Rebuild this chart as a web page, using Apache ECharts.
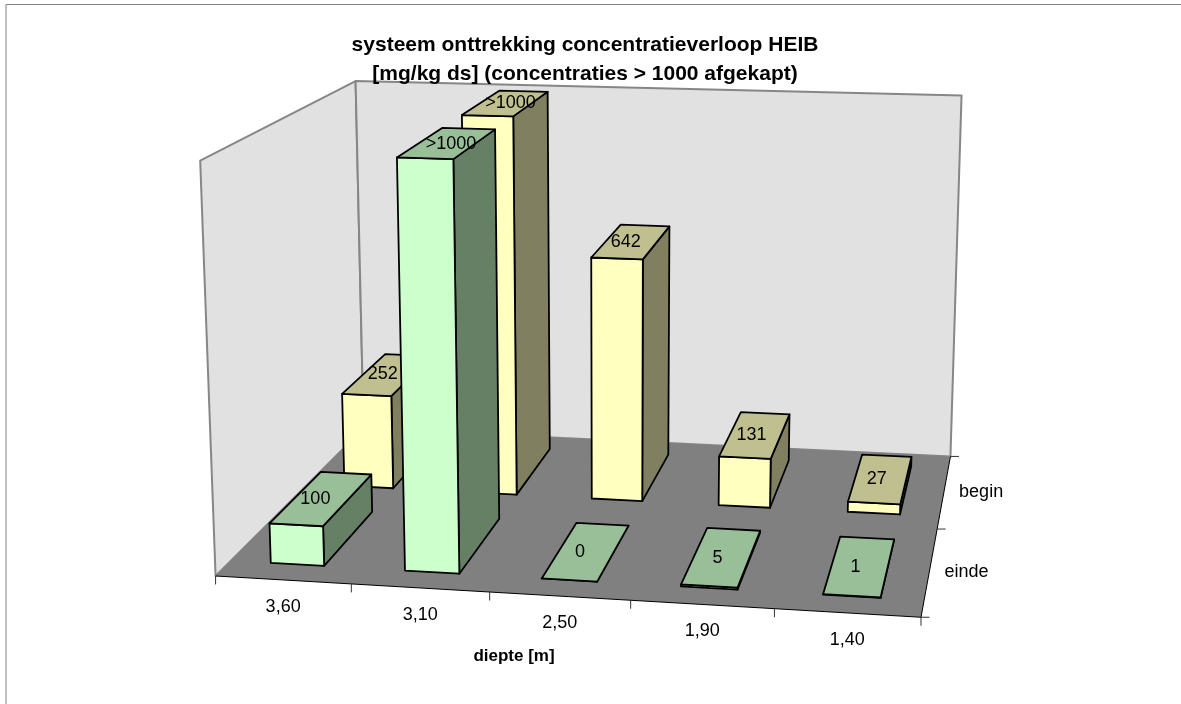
<!DOCTYPE html>
<html><head><meta charset="utf-8">
<style>html,body{margin:0;padding:0;background:#fff}#c{width:1181px;height:704px}</style>
<script src="https://cdn.jsdelivr.net/npm/echarts@6/dist/echarts.min.js"></script>
</head><body><div id="c"></div>
<script>
const categories = ['3,60','3,10','2,50','1,90','1,40'];
const rows = ['einde','begin'];
const beginValues = [252,1000,642,131,27];
const eindeValues = [100,1000,0,5,1];
const beginLabels = ['252','>1000','642','131','27'];
const eindeLabels = ['100','>1000','0','5','1'];

// camera calibration: plot-box position (u,v,w) -> screen
const calib = [
 [0,0,0,214.5,575.3],[1,0,0,351.7,584],[2,0,0,490,592.5],[3,0,0,631,601],[4,0,0,775,609],[5,0,0,920,616.8],
 [5,.5,0,937,528.7],[5,1,0,950.5,456.8],[0,1,0,364,428],
 [0,0,1,200.7,160.3],[0,1,1,355,81.7],[5,1,1,961.7,95]
];
function solve(A,b){const n=b.length;for(let i=0;i<n;i++){let m=i;for(let r=i+1;r<n;r++)if(Math.abs(A[r][i])>Math.abs(A[m][i]))m=r;
 [A[i],A[m]]=[A[m],A[i]];[b[i],b[m]]=[b[m],b[i]];
 for(let r=i+1;r<n;r++){const f=A[r][i]/A[i][i];for(let c=i;c<n;c++)A[r][c]-=f*A[i][c];b[r]-=f*b[i];}}
 const x=Array(n).fill(0);for(let i=n-1;i>=0;i--){let s=b[i];for(let c=i+1;c<n;c++)s-=A[i][c]*x[c];x[i]=s/A[i][i];}return x;}
function fit(pts){const N=Array.from({length:11},()=>Array(11).fill(0)),B=Array(11).fill(0);
 const add=(r,t)=>{for(let i=0;i<11;i++){B[i]+=r[i]*t;for(let j=0;j<11;j++)N[i][j]+=r[i]*r[j];}};
 pts.forEach(([X,Y,Z,x,y])=>{add([X,Y,Z,1,0,0,0,0,-x*X,-x*Y,-x*Z],x);add([0,0,0,0,X,Y,Z,1,-y*X,-y*Y,-y*Z],y);});
 return solve(N,B);}
const p=fit(calib);
function proj(u,v,w){const d=p[8]*u+p[9]*v+p[10]*w+1;return [(p[0]*u+p[1]*v+p[2]*w+p[3])/d,(p[4]*u+p[5]*v+p[6]*w+p[7])/d];}

const gapU=0.3, rowSpan=[[.088,.42],[.58,.912]];
const wallFill='#e1e1e1', wallLine='#868686', floorFill='#808080';
const labelFont='18px "Liberation Sans"';
const poly=(pts,fill,stroke,lw)=>({type:'polygon',shape:{points:pts},style:{fill:fill,stroke:stroke||null,lineWidth:lw||0,lineJoin:'round'}});
const seg=(a,b,c,lw)=>({type:'line',shape:{x1:a[0],y1:a[1],x2:b[0],y2:b[1]},style:{stroke:c,lineWidth:lw}});

function frameItem(){
 const f00=proj(0,0,0),f50=proj(5,0,0),f51=proj(5,1,0),f01=proj(0,1,0),t00=proj(0,0,1),t01=proj(0,1,1),t51=proj(5,1,1);
 const ch=[poly([f00,f01,t01,t00],wallFill,wallLine,2),poly([f01,f51,t51,t01],wallFill,wallLine,2),poly([f00,f50,f51,f01],floorFill)];
 ch.push(seg(f00,f50,'#000',1),seg(f50,f51,'#000',1));
 for(let i=0;i<=categories.length;i++){const a=proj(i,0,0);ch.push(seg(a,[a[0],a[1]+8.5],'#333',1));}
 for(let j=0;j<=rows.length;j++){const a=proj(5,j/rows.length,0);ch.push(seg(a,[a[0]+8.5,a[1]],'#333',1));}
 return {type:'group',children:ch};
}
function barRender(row,front,top,side){
 return function(params,api){
  const cs=params.coordSys,i=api.value(0);
  const c=api.coord([i,api.value(1)]),band=api.size([1,0])[0];
  const uc=(c[0]-cs.x)/band, w=(cs.y+cs.height-c[1])/cs.height;
  const u0=uc-.5+gapU,u1=uc+.5-gapU,v0=rowSpan[row][0],v1=rowSpan[row][1];
  const a=proj(u0,v0,0),b=proj(u1,v0,0),d=proj(u1,v1,0),A=proj(u0,v0,w),B=proj(u1,v0,w),C=proj(u0,v1,w),D=proj(u1,v1,w);
  return {type:'group',children:[
   poly([b,d,D,B],side,'#000',1.8),poly([a,b,B,A],front,'#000',1.8),poly([A,B,D,C],top,'#000',1.8)]};
 };
}
function labelRender(row,labels){
 return function(params,api){
  const cs=params.coordSys,i=api.value(0);
  const c=api.coord([i,api.value(1)]),band=api.size([1,0])[0];
  const uc=(c[0]-cs.x)/band,w=(cs.y+cs.height-c[1])/cs.height;
  const pt=proj(uc,(row+.5)/rows.length,w);
  const dx=labels[i].length>3?4:(i<3?-6:-4);
  return {type:'text',x:pt[0]+dx,y:pt[1]+.5,style:{text:labels[i],font:labelFont,fill:'#000',align:'center',verticalAlign:'middle'}};
 };
}
function axisLabelItem(params,api){
 const ch=[];
 categories.forEach((t,i)=>{const a=proj(i+.5,0,0);ch.push({type:'text',x:a[0],y:a[1]+27,style:{text:t,font:labelFont,fill:'#000',align:'center',verticalAlign:'middle'}});});
 rows.forEach((t,j)=>{const a=proj(5,(j+.5)/rows.length,0);ch.push({type:'text',x:a[0]+15,y:a[1]+1,style:{text:t,font:labelFont,fill:'#000',align:'left',verticalAlign:'middle'}});});
 return {type:'group',children:ch};
}
const chart=echarts.init(document.getElementById('c'),null,{renderer:'canvas'});
chart.setOption({
 animation:false,backgroundColor:'#fff',
 title:[
  {text:'systeem onttrekking concentratieverloop HEIB\n[mg/kg ds] (concentraties > 1000 afgekapt)',left:580,top:26,textAlign:'center',
   textStyle:{fontFamily:'Liberation Sans',fontSize:21,fontWeight:'bold',color:'#000',lineHeight:29}},
  {text:'diepte [m]',left:509,top:643,textAlign:'center',textStyle:{fontFamily:'Liberation Sans',fontSize:17,fontWeight:'bold',color:'#000'}}
 ],
 grid:{left:0,right:0,top:0,bottom:0,containLabel:false},
 xAxis:{type:'category',data:categories,show:false},
 yAxis:{type:'value',min:0,max:1000,show:false},
 graphic:[{type:'rect',shape:{x:6,y:4.5,width:1300,height:900},style:{fill:'none',stroke:'#808080',lineWidth:1},silent:true}],
 series:[
  {type:'custom',name:'frame',data:[[0,0]],renderItem:frameItem,silent:true,z:2,clip:false},
  {type:'custom',name:'begin',data:beginValues.map((v,i)=>[i,v]),renderItem:barRender(1,'#ffffc0','#bfbf90','#808060'),z:3,clip:false},
  {type:'custom',name:'einde',data:eindeValues.map((v,i)=>[i,v]),renderItem:barRender(0,'#ccffcc','#99bf99','#668066'),z:4,clip:false},
  {type:'custom',name:'begin labels',data:beginValues.map((v,i)=>[i,v]),renderItem:labelRender(1,beginLabels),z:5,clip:false,silent:true},
  {type:'custom',name:'einde labels',data:eindeValues.map((v,i)=>[i,v]),renderItem:labelRender(0,eindeLabels),z:5,clip:false,silent:true},
  {type:'custom',name:'axis labels',data:[[0,0]],renderItem:axisLabelItem,z:5,clip:false,silent:true}
 ]
});
</script></body></html>
